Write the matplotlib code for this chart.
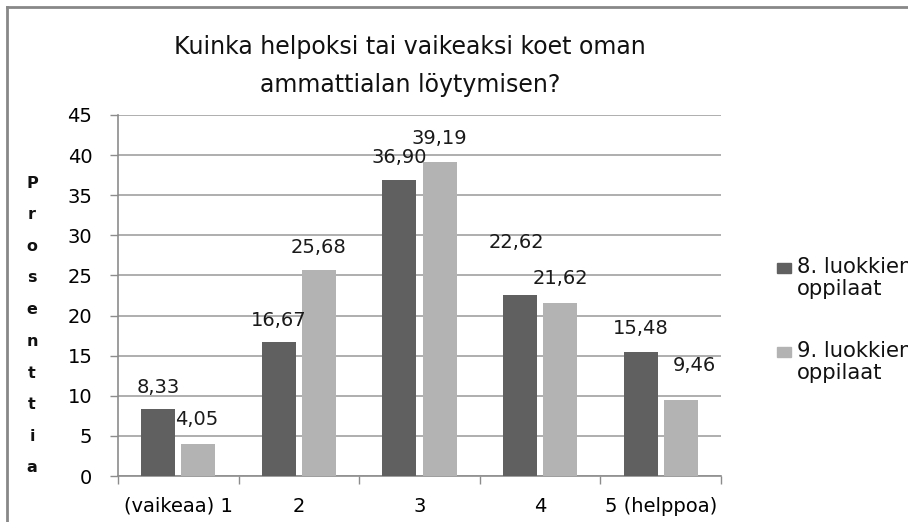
import matplotlib
matplotlib.use("Agg")
import matplotlib.pyplot as plt
from matplotlib.lines import Line2D
from matplotlib.patches import Rectangle

categories = ["(vaikeaa) 1", "2", "3", "4", "5 (helppoa)"]
grade8 = [8.33, 16.67, 36.90, 22.62, 15.48]
grade9 = [4.05, 25.68, 39.19, 21.62, 9.46]
series_names = ["8. luokkien\noppilaat", "9. luokkien\noppilaat"]
title = "Kuinka helpoksi tai vaikeaksi koet oman\nammattialan löytymisen?"
ylabel = "Prosenttia"

# label offsets in pixels (most sit just above the bar)
off8 = [(0, 22), (0, 22), (0, 22), (-4, 52), (0, 23)]
off9 = [(-2, 24), (0, 22), (0, 23), (0, 24), (14, 35)]

plt.rcParams['font.family'] = ['DejaVu Sans']
dark = '#606060'
light = '#b3b3b3'
grey = '#8c8c8c'

fig = plt.figure(figsize=(9.08, 5.22), dpi=100)
ax = fig.add_axes([118/908, 46/522, 603/908, 361/522])

x = list(range(len(categories)))
w = 0.282
ax.bar([i - 0.166 for i in x], grade8, w, color=dark, zorder=3)
ax.bar([i + 0.166 for i in x], grade9, w, color=light, zorder=3)

for i, v in enumerate(grade8):
    ax.annotate(f"{v:.2f}".replace('.', ','), (i - 0.166, v), xytext=off8[i],
                textcoords='offset pixels', ha='center', va='center', fontsize=14, color='#1a1a1a')
for i, v in enumerate(grade9):
    ax.annotate(f"{v:.2f}".replace('.', ','), (i + 0.166, v), xytext=off9[i],
                textcoords='offset pixels', ha='center', va='center', fontsize=14, color='#1a1a1a')

ax.set_xlim(-0.5, 4.5)
ax.set_ylim(0, 45)
ax.set_yticks(range(0, 46, 5))
ax.set_xticks(x)
ax.set_xticklabels(categories)
ax.set_xticks([i - 0.5 for i in range(6)], minor=True)
ax.tick_params(axis='x', which='major', length=0, labelsize=14, pad=15)
ax.tick_params(axis='x', which='minor', length=6, color=grey, width=1)
ax.tick_params(axis='y', length=6, color=grey, width=1, labelsize=14, pad=12.5)
ax.grid(axis='y', color='#a8a8a8', linewidth=1.3, zorder=0)
for s in ['top', 'right']:
    ax.spines[s].set_visible(False)
for s in ['left', 'bottom']:
    ax.spines[s].set_color(grey)
    ax.spines[s].set_linewidth(1.2)

fig.text(410/908, 1 - 66/522, title, ha='center', va='center', fontsize=17,
         linespacing=1.78, color='#111111')

# vertical stacked y label
n = len(ylabel)
for k, ch in enumerate(ylabel):
    yp = 183 + k * (468 - 183) / (n - 1)
    fig.text(32/908, 1 - yp/522, ch, ha='center', va='center', fontsize=11.5,
             fontweight='bold', color='#111111')

# legend drawn by hand
for name, col, yc in zip(series_names, [dark, light], [268, 352]):
    fig.patches.append(Rectangle((777/908, 1 - (yc + 5)/522), 14/908, 10/522,
                                 transform=fig.transFigure, color=col, figure=fig))
    fig.text(797/908, 1 - (yc - 11)/522, name, ha='left', va='top', fontsize=15.2,
             linespacing=1.1, color='#111111')

# outer frame
fig.add_artist(Line2D([7/908, 7/908], [0, 1 - 7/522], color='#888888', lw=2, transform=fig.transFigure))
fig.add_artist(Line2D([7/908, 1], [1 - 7/522, 1 - 7/522], color='#888888', lw=2, transform=fig.transFigure))

fig.savefig("out.png", dpi=100)
